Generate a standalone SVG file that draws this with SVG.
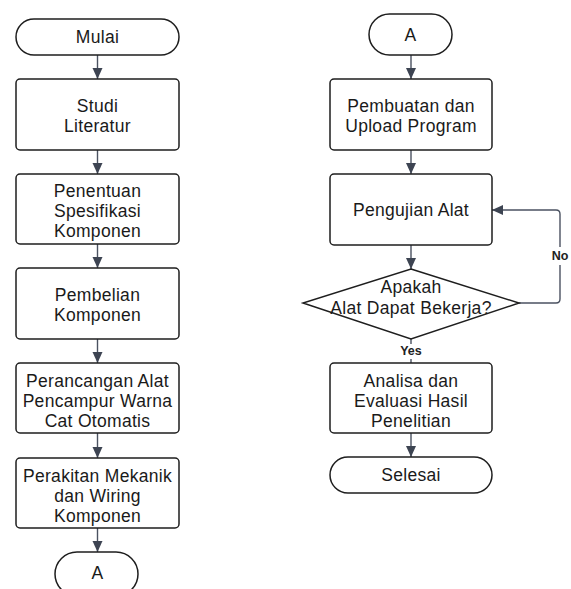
<svg xmlns="http://www.w3.org/2000/svg" width="571" height="589" viewBox="0 0 571 589">
<style>
.s{fill:#fff;stroke:#1e1e1e;stroke-width:1.5}
.t{font-family:"Liberation Sans",Arial,sans-serif;font-size:17.5px;letter-spacing:0.3px;fill:#1a1a1a;text-anchor:middle;dominant-baseline:central}
.c{fill:none;stroke:#4b5261;stroke-width:1.4}
.l{font-family:"Liberation Sans",Arial,sans-serif;font-size:12.5px;font-weight:bold;fill:#222;text-anchor:middle;dominant-baseline:central}
</style>
<defs>
<marker id="ah" markerUnits="userSpaceOnUse" markerWidth="12" markerHeight="12" viewBox="0 0 12 12" refX="11" refY="6" orient="auto">
<path d="M0,1 L11,6 L0,11 Z" fill="#3d4452"/>
</marker>
</defs>
<rect width="571" height="589" fill="#fff"/>
<g id="connectors">
<path class="c" d="M97.5 55 V79" marker-end="url(#ah)"/>
<path class="c" d="M97.5 150 V174" marker-end="url(#ah)"/>
<path class="c" d="M97.5 244 V268" marker-end="url(#ah)"/>
<path class="c" d="M97.5 339 V363" marker-end="url(#ah)"/>
<path class="c" d="M97.5 433 V458" marker-end="url(#ah)"/>
<path class="c" d="M97.5 528 V552" marker-end="url(#ah)"/>
<path class="c" d="M411 55 V79" marker-end="url(#ah)"/>
<path class="c" d="M411 150 V174" marker-end="url(#ah)"/>
<path class="c" d="M411 245 V269" marker-end="url(#ah)"/>
<path class="c" d="M411 339 V363"/>
<path class="c" d="M411 433 V457" marker-end="url(#ah)"/>
<path class="c" d="M519 303 H556 Q560 303 560 299 V214 Q560 210 556 210 H492" marker-end="url(#ah)"/>
<rect x="548" y="247" width="24" height="18" fill="#fff"/>
<text class="l" x="560" y="256">No</text>
<rect x="398" y="344" width="26" height="15" fill="#fff"/>
<text class="l" x="411" y="351">Yes</text>
</g>
<g id="mulai">
<rect class="s" x="16" y="19" width="163" height="36" rx="18"/>
<text class="t" x="97.5" y="37">Mulai</text>
</g>
<g id="studi">
<rect class="s" x="16" y="79" width="163" height="71" rx="4"/>
<text class="t" x="97.5" y="106">Studi</text>
<text class="t" x="97.5" y="126">Literatur</text>
</g>
<g id="penentuan">
<rect class="s" x="16" y="174" width="163" height="70" rx="4"/>
<text class="t" x="97.5" y="191">Penentuan</text>
<text class="t" x="97.5" y="211">Spesifikasi</text>
<text class="t" x="97.5" y="231">Komponen</text>
</g>
<g id="pembelian">
<rect class="s" x="16" y="268" width="163" height="71" rx="4"/>
<text class="t" x="97.5" y="295">Pembelian</text>
<text class="t" x="97.5" y="315">Komponen</text>
</g>
<g id="perancangan">
<rect class="s" x="16" y="363" width="163" height="70" rx="4"/>
<text class="t" x="97.5" y="381">Perancangan Alat</text>
<text class="t" x="97.5" y="401">Pencampur Warna</text>
<text class="t" x="97.5" y="421">Cat Otomatis</text>
</g>
<g id="perakitan">
<rect class="s" x="16" y="458" width="163" height="70" rx="4"/>
<text class="t" x="97.5" y="476">Perakitan Mekanik</text>
<text class="t" x="97.5" y="496">dan Wiring</text>
<text class="t" x="97.5" y="516">Komponen</text>
</g>
<g id="a-out">
<rect class="s" x="55" y="552" width="83" height="44" rx="22"/>
<text class="t" x="97.5" y="573">A</text>
</g>
<g id="a-in">
<rect class="s" x="369" y="14" width="83" height="41" rx="20.5"/>
<text class="t" x="410.5" y="35">A</text>
</g>
<g id="pembuatan">
<rect class="s" x="330" y="79" width="162" height="71" rx="4"/>
<text class="t" x="411" y="106">Pembuatan dan</text>
<text class="t" x="411" y="126">Upload Program</text>
</g>
<g id="pengujian">
<rect class="s" x="330" y="174" width="162" height="71" rx="4"/>
<text class="t" x="411" y="210">Pengujian Alat</text>
</g>
<g id="decision">
<polygon class="s" points="411,269 519,303 411,339 303,303"/>
<text class="t" x="411" y="287">Apakah</text>
<text class="t" x="411" y="308">Alat Dapat Bekerja?</text>
</g>
<g id="analisa">
<rect class="s" x="330" y="363" width="162" height="70" rx="4"/>
<text class="t" x="411" y="381">Analisa dan</text>
<text class="t" x="411" y="401">Evaluasi Hasil</text>
<text class="t" x="411" y="421">Penelitian</text>
</g>
<g id="selesai">
<rect class="s" x="330" y="457" width="162" height="36" rx="18"/>
<text class="t" x="411" y="475">Selesai</text>
</g>
</svg>
